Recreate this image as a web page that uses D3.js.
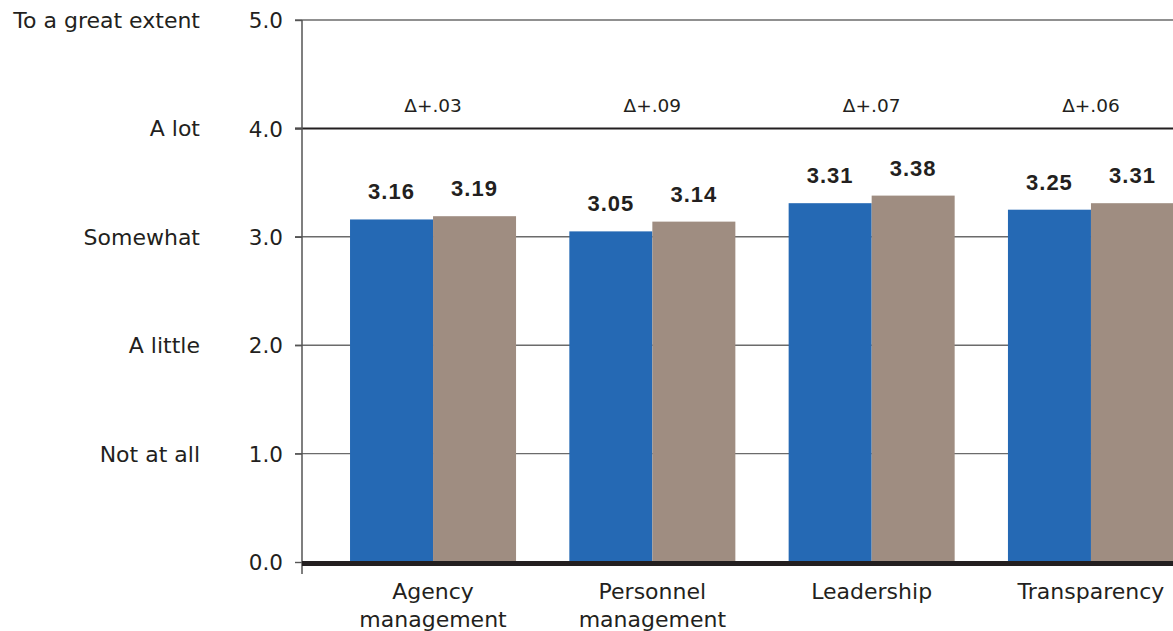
<!DOCTYPE html>
<html>
<head>
<meta charset="utf-8">
<script src="https://cdn.jsdelivr.net/npm/d3@7"></script>
<style>
  html, body { margin: 0; padding: 0; background: #fff; }
  svg { display: block; }
</style>
</head>
<body>
<svg id="chart" width="1173" height="631"></svg>
<script>
// Mean scores by dimension, two survey waves
const categories = [["Agency", "management"], ["Personnel", "management"], ["Leadership"], ["Transparency"]];
const seriesA = [3.16, 3.05, 3.31, 3.25];
const seriesB = [3.19, 3.14, 3.38, 3.31];
const deltaLabels = ["Δ+.03", "Δ+.09", "Δ+.07", "Δ+.06"];
const yTicks = [0, 1, 2, 3, 4, 5];
const scaleLabels = ["", "Not at all", "A little", "Somewhat", "A lot", "To a great extent"];

const colorA = "#2569b4";
const colorB = "#9f8d81";
const font = "'DejaVu Sans', sans-serif";
const boldFont = "'Liberation Sans', Arial, sans-serif";

const svg = d3.select("#chart");
const W = 1173;
const axisX = 302;

const y = d3.scaleLinear().domain([0, 5]).range([562, 20]);

const keys = categories.map((c, i) => i);
const x = d3.scaleBand()
  .domain(keys)
  .range([axisX, 1222])
  .paddingInner(0.243)
  .paddingOuter(0.219);
const xSub = d3.scaleBand().domain([0, 1]).range([0, x.bandwidth()]);

// Horizontal grid lines with ticks extending left of the axis
const grid = svg.append("g");
yTicks.filter(t => t > 0).forEach(t => {
  grid.append("line")
    .attr("x1", axisX - 7).attr("x2", W)
    .attr("y1", y(t)).attr("y2", y(t))
    .attr("stroke", t === 4 ? "#231f20" : "#6b6b6b")
    .attr("stroke-width", t === 4 ? 2 : 1.4);
});

// Y axis numeric labels
const yAxis = d3.axisLeft(y).tickValues(yTicks).tickFormat(d3.format(".1f")).tickSize(7).tickPadding(12);
const yg = svg.append("g").attr("transform", `translate(${axisX},0)`).call(yAxis);
yg.select(".domain").remove();
yg.selectAll(".tick line").attr("stroke", "#555").attr("stroke-width", 1.4);
yg.selectAll(".tick text")
  .attr("font-family", font).attr("font-size", 21.5).attr("fill", "#231f20")
  .attr("dy", "0.36em");

// Verbal scale labels
svg.append("g").selectAll("text")
  .data(yTicks)
  .join("text")
  .attr("x", 200)
  .attr("y", d => y(d))
  .attr("dy", "0.36em")
  .attr("text-anchor", "end")
  .attr("font-family", font).attr("font-size", 22).attr("fill", "#231f20")
  .text(d => scaleLabels[d]);

// Bars
const groups = svg.append("g").selectAll("g")
  .data(keys)
  .join("g")
  .attr("transform", d => `translate(${x(d)},0)`);

groups.append("rect")
  .attr("x", xSub(0)).attr("width", xSub.bandwidth())
  .attr("y", d => y(seriesA[d])).attr("height", d => y(0) - y(seriesA[d]))
  .attr("fill", colorA);
groups.append("rect")
  .attr("x", xSub(1)).attr("width", xSub.bandwidth())
  .attr("y", d => y(seriesB[d])).attr("height", d => y(0) - y(seriesB[d]))
  .attr("fill", colorB);

// Value labels
groups.append("text")
  .attr("x", xSub(0) + xSub.bandwidth() / 2)
  .attr("y", d => y(seriesA[d]) - 20)
  .attr("text-anchor", "middle")
  .attr("font-family", boldFont).attr("font-weight", "bold").attr("font-size", 22)
  .attr("letter-spacing", 1)
  .attr("fill", "#231f20")
  .text(d => seriesA[d].toFixed(2));
groups.append("text")
  .attr("x", xSub(1) + xSub.bandwidth() / 2)
  .attr("y", d => y(seriesB[d]) - 20)
  .attr("text-anchor", "middle")
  .attr("font-family", boldFont).attr("font-weight", "bold").attr("font-size", 22)
  .attr("letter-spacing", 1)
  .attr("fill", "#231f20")
  .text(d => seriesB[d].toFixed(2));

// Change labels
groups.append("text")
  .attr("x", x.bandwidth() / 2)
  .attr("y", 112)
  .attr("text-anchor", "middle")
  .attr("font-family", font).attr("font-size", 18.5).attr("fill", "#231f20")
  .text(d => deltaLabels[d]);

// Category labels
const catText = groups.append("text")
  .attr("x", x.bandwidth() / 2)
  .attr("y", 599)
  .attr("text-anchor", "middle")
  .attr("font-family", font).attr("font-size", 22).attr("fill", "#231f20");
catText.selectAll("tspan")
  .data(d => categories[d])
  .join("tspan")
  .attr("x", x.bandwidth() / 2)
  .attr("dy", (d, i) => i === 0 ? 0 : 28)
  .text(d => d);

// Vertical axis line
svg.append("line")
  .attr("x1", axisX).attr("x2", axisX)
  .attr("y1", y(5)).attr("y2", y(0) + 12)
  .attr("stroke", "#555").attr("stroke-width", 1.5);

// Heavy baseline at zero
svg.append("line")
  .attr("x1", axisX).attr("x2", W)
  .attr("y1", y(0) + 1.5).attr("y2", y(0) + 1.5)
  .attr("stroke", "#231f20").attr("stroke-width", 5);
</script>
</body>
</html>
